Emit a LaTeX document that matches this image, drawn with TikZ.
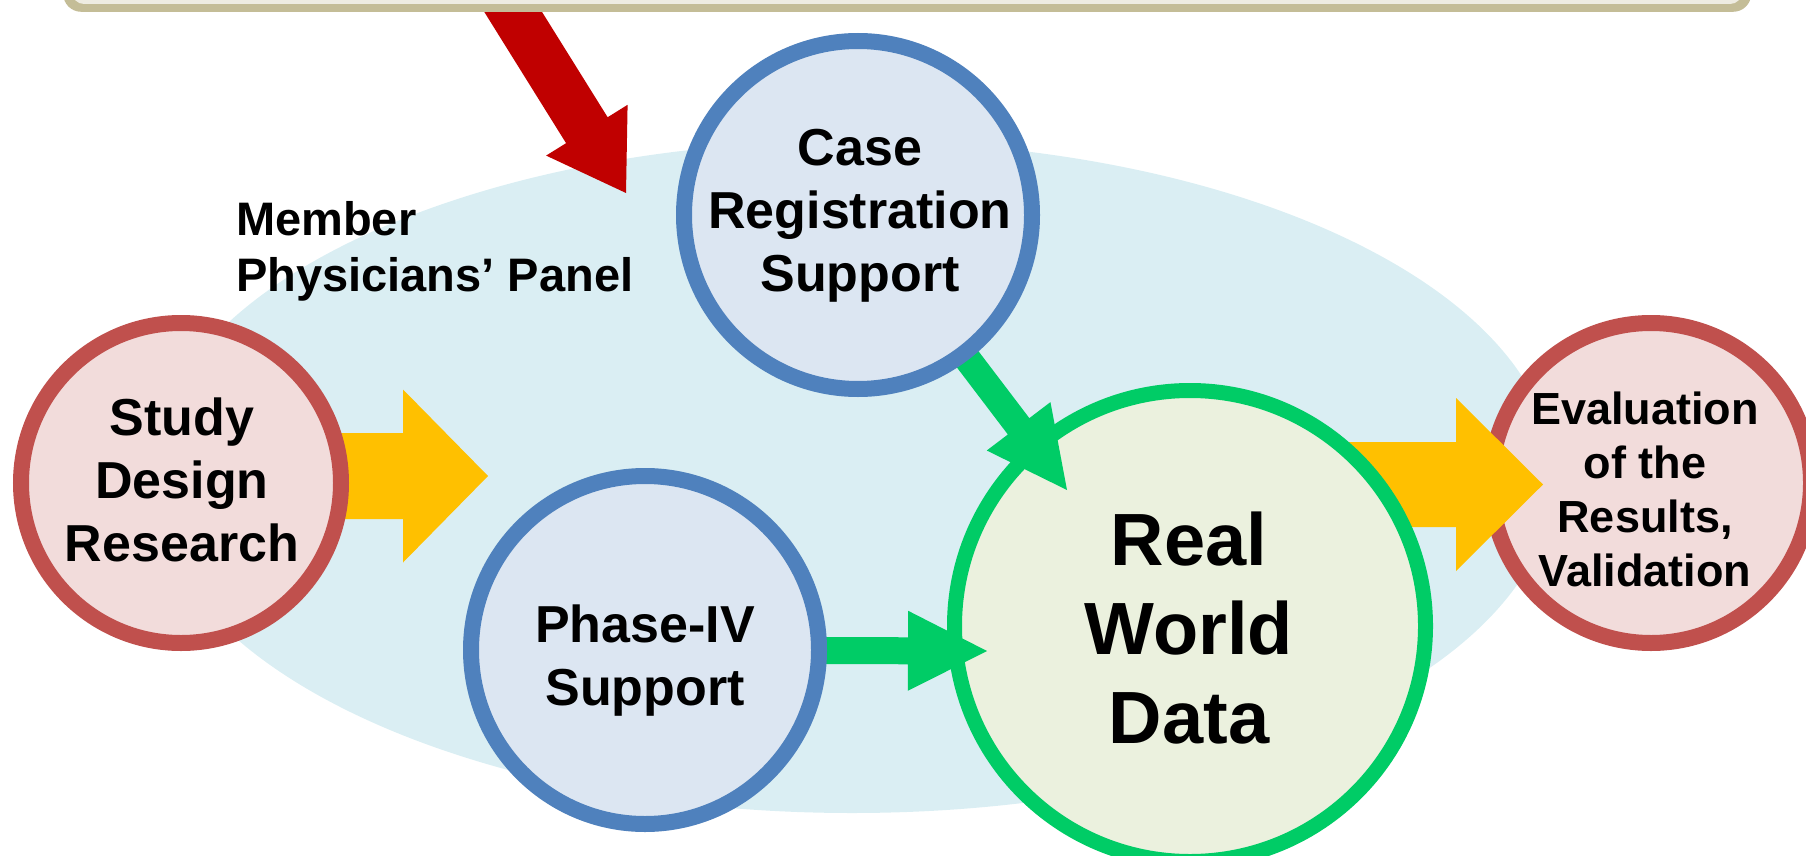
\documentclass[tikz,border=0pt]{standalone}
\usepackage{fontspec}
\setmainfont{Liberation Sans}
\usetikzlibrary{calc}

\definecolor{panelFill}{HTML}{DAEEF3}
\definecolor{roseFill}{HTML}{F2DCDB}
\definecolor{roseLine}{HTML}{C0504D}
\definecolor{skyFill}{HTML}{DCE6F2}
\definecolor{skyLine}{HTML}{4F81BD}
\definecolor{leafFill}{HTML}{EBF1DE}
\definecolor{leafLine}{HTML}{00CC66}
\definecolor{amber}{HTML}{FFC000}
\definecolor{crimson}{HTML}{C00000}
\definecolor{boxFill}{HTML}{EEECE1}
\definecolor{boxLine}{HTML}{C4BD97}

% block arrow: #1 name, #2 tail, #3 tip, #4 shaft half width,
% #5 head half width, #6 head length, #7 fill style
\newcommand\blockarrow[7]{%
  \coordinate (#1-base) at ($(#3)!#6!(#2)$);
  \fill[#7] ($(#2)!#4!90:(#3)$)
    -- ($(#1-base)!#4!90:(#3)$)
    -- ($(#1-base)!#5!90:(#3)$)
    -- (#3)
    -- ($(#1-base)!#5!-90:(#3)$)
    -- ($(#1-base)!#4!-90:(#3)$)
    -- ($(#2)!#4!-90:(#3)$) -- cycle;}

\begin{document}
\begin{tikzpicture}[x=1pt,y=-1pt,
  ring/.style={circle, inner sep=0pt, line width=16pt},
  rosering/.style={ring, draw=roseLine, fill=roseFill, minimum size=320pt},
  skyring/.style={ring, draw=skyLine, fill=skyFill, minimum size=348pt},
  leafring/.style={ring, draw=leafLine, fill=leafFill, line width=15pt, minimum size=471pt},
  caption/.style={inner sep=0pt, align=center, text=black,
    font=\fontsize{52pt}{63pt}\selectfont\bfseries},
  smallcaption/.style={caption, font=\fontsize{45pt}{54pt}\selectfont\bfseries},
  bigcaption/.style={caption, font=\fontsize{74pt}{89pt}\selectfont\bfseries},
  panelcaption/.style={inner sep=0pt, align=left, text=black,
    font=\fontsize{47pt}{56pt}\selectfont\bfseries},
]
\useasboundingbox (0,0) rectangle (1806,856);
\clip (0,0) rectangle (1806,856);

% physicians' panel area
\fill[panelFill] (852,477) ellipse [x radius=702pt, y radius=336pt];

% arrow coming down from the top box
\coordinate (redtail) at (487,-30);
\coordinate (redtip) at (626,193);
\blockarrow{red}{redtail}{redtip}{24.5pt}{48pt}{74pt}{crimson}

% top box (cut by the upper edge)
\node[fill=boxLine, rounded corners=18pt, minimum width=1688pt,
      minimum height=100pt, inner sep=0pt, anchor=south west] (topbox) at (63,12) {};
\fill[boxFill, rounded corners=12pt] (72,-80) rectangle (1742,4);

\node[panelcaption, anchor=north west] (panel) at (236,201)
  {Member\\Physicians’ Panel};

% study design -> panel
\coordinate (ytailA) at (300,476);
\coordinate (ytipA) at (488,476);
\blockarrow{ya}{ytailA}{ytipA}{43pt}{86.5pt}{85pt}{amber}
\node[rosering] (study) at (181,483) {};

% evaluation and the arrow into it
\node[rosering] (eval) at (1651,483) {};
\coordinate (ytailB) at (1300,484.5);
\coordinate (ytipB) at (1543,484.5);
\blockarrow{yb}{ytailB}{ytipB}{42.5pt}{86.5pt}{87pt}{amber}

% real world data
\node[leafring] (rwd) at (1190,626) {};

% supports feeding the data: arrows start under the support circles
\path node[circle, minimum size=348pt] (case) at (858,215) {}
      node[circle, minimum size=348pt] (phase) at (645,650) {};
\coordinate (gtipA) at (1067,490);
\coordinate (gtipB) at (987,651);
\blockarrow{ga}{case.center}{gtipA}{13.5pt}{40pt}{80pt}{leafLine}
\blockarrow{gb}{phase.center}{gtipB}{13.5pt}{40pt}{79pt}{leafLine}
\node[skyring] (caseRing) at (case.center) {};
\node[skyring] (phaseRing) at (phase.center) {};

% captions
\node[caption] (studyText) at (182,480) {Study\\Design\\Research};
\node[caption] (caseText) at (860,216) {Case\\Registration\\Support};
\node[caption] (phaseText) at (645,661) {Phase-IV\\Support};
\node[bigcaption] (rwdText) at (1189,628) {Real\\World\\Data};
\node[smallcaption] (evalText) at (1645,489) {Evaluation\\of the\\Results,\\Validation};
\end{tikzpicture}
\end{document}
